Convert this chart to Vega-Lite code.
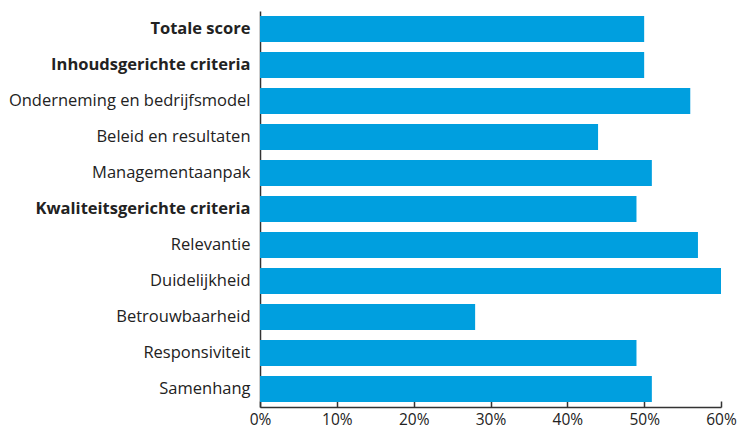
{
  "$schema": "https://vega.github.io/schema/vega-lite/v6.json",
  "autosize": "none",
  "width": 461,
  "height": 396,
  "padding": {"left": 260, "top": 11, "right": 20, "bottom": 23},
  "background": "white",
  "data": {"values": [
    {"categorie": "Totale score", "score": 50},
    {"categorie": "Inhoudsgerichte criteria", "score": 50},
    {"categorie": "Onderneming en bedrijfsmodel", "score": 56},
    {"categorie": "Beleid en resultaten", "score": 44},
    {"categorie": "Managementaanpak", "score": 51},
    {"categorie": "Kwaliteitsgerichte criteria", "score": 49},
    {"categorie": "Relevantie", "score": 57},
    {"categorie": "Duidelijkheid", "score": 60},
    {"categorie": "Betrouwbaarheid", "score": 28},
    {"categorie": "Responsiviteit", "score": 49},
    {"categorie": "Samenhang", "score": 51}
  ]},
  "config": {"view": {"stroke": null}, "font": "Open Sans"},
  "mark": {"type": "bar", "color": "#009fdf"},
  "encoding": {
    "y": {
      "field": "categorie", "type": "nominal", "sort": null, "title": null,
      "scale": {"paddingInner": 0.28, "paddingOuter": 0.14},
      "axis": {
        "ticks": false, "domainColor": "#333333", "domainWidth": 1.5,
        "labelFontSize": 16.5, "labelColor": "#222222", "labelPadding": 10, "labelLimit": 300,
        "labelFontWeight": {"condition": {"test": "indexof(['Totale score','Inhoudsgerichte criteria','Kwaliteitsgerichte criteria'], datum.value) >= 0", "value": "bold"}, "value": "normal"}
      }
    },
    "x": {
      "field": "score", "type": "quantitative", "title": null,
      "scale": {"domain": [0, 60], "nice": false},
      "axis": {
        "values": [0, 10, 20, 30, 40, 50, 60], "grid": false,
        "labelExpr": "datum.value + '%'",
        "tickSize": -6, "tickColor": "#333333", "tickWidth": 1.5,
        "domainColor": "#333333", "domainWidth": 1.5,
        "labelFontSize": 15.5, "labelColor": "#222222", "labelPadding": 11, "labelFlush": false
      }
    }
  }
}
